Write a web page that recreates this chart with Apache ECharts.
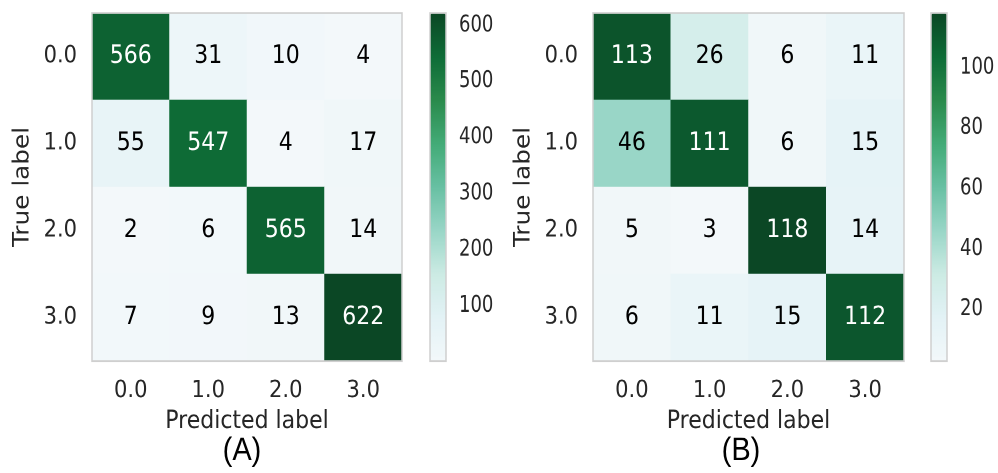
<!DOCTYPE html>
<html>
<head>
<meta charset="utf-8">
<script src="https://cdn.jsdelivr.net/npm/echarts@6/dist/echarts.min.js"></script>
<style>
  html, body { margin: 0; padding: 0; background: #ffffff; overflow: hidden; }
  #wrap { width: 998px; height: 473px; overflow: hidden; }
  /* the figure is drawn at a square-cell aspect and stretched vertically */
  #chart { width: 998px; height: 421px; transform-origin: 0 0; }
</style>
</head>
<body>
<div id="wrap"><div id="chart"></div></div>
<script>
// Class labels shared by both confusion matrices
const classLabels = ['0.0', '1.0', '2.0', '3.0'];

// Confusion matrix (A): rows = true label, columns = predicted label
const matrixA = [
  [566, 31, 10, 4],
  [55, 547, 4, 17],
  [2, 6, 565, 14],
  [7, 9, 13, 622]
];

// Confusion matrix (B)
const matrixB = [
  [113, 26, 6, 11],
  [46, 111, 6, 15],
  [5, 3, 118, 14],
  [6, 11, 15, 112]
];

// Colorbar tick labels
const colorbarTicksA = [100, 200, 300, 400, 500, 600];
const colorbarTicksB = [20, 40, 60, 80, 100];

// Panel captions
const panelTitles = ['(A)', '(B)'];

const FONT = 'DejaVu Sans';
const CB_FONT = '"DejaVu Sans Condensed", "DejaVu Sans"';
const TEXT_DARK = '#262626';
const BUGN = ['#f3f8fa', '#e3f2f6', '#ccebe4', '#99d6c7', '#68c0a3',
              '#43ab77', '#2a8a4c', '#0e6c37', '#0b4725'];

// vertical stretch applied to the rendered canvas
const SY = 473 / 421;
document.getElementById('chart').style.transform = 'scaleY(' + SY + ')';

function flatten(m) {
  const out = [];
  m.forEach(row => row.forEach(v => out.push(v)));
  return out;
}

function heatData(m) {
  const vals = flatten(m);
  const lo = Math.min(...vals), hi = Math.max(...vals);
  const thresh = (lo + hi) / 2;
  const data = [];
  m.forEach((row, yi) => {
    row.forEach((v, xi) => {
      data.push({
        value: [xi, yi, v],
        label: { color: v > thresh ? '#ffffff' : '#000000' }
      });
    });
  });
  return { data, lo, hi };
}

const hA = heatData(matrixA);
const hB = heatData(matrixB);

// Layout of the two panels (matrix grid + colorbar grid), in unstretched units
const panels = [
  { mx: 92, mw: 310, cbx: 430, title: 242 },
  { mx: 593, mw: 311, cbx: 931, title: 741 }
];
const TOP = 13 / SY, H = 348 / SY, CBW = 16;

const grids = [];
const xAxes = [];
const yAxes = [];
const series = [];
const visualMaps = [];
const graphics = [];

[[hA, colorbarTicksA], [hB, colorbarTicksB]].forEach(([h, ticks], i) => {
  const p = panels[i];
  // matrix grid
  grids.push({
    left: p.mx, top: TOP, width: p.mw, height: H,
    show: true, borderColor: '#cfcfcf', borderWidth: 1.5,
    backgroundColor: 'transparent', z: 5
  });
  // colorbar frame
  grids.push({
    left: p.cbx, top: TOP, width: CBW, height: H,
    show: true, borderColor: '#cfcfcf', borderWidth: 1.5,
    backgroundColor: 'transparent', z: 5
  });
  const gm = i * 2, gc = i * 2 + 1;

  xAxes.push({
    type: 'category', gridIndex: gm, data: classLabels,
    position: 'bottom',
    axisLine: { show: false }, axisTick: { show: false }, splitLine: { show: false },
    axisLabel: { fontFamily: FONT, fontSize: 21, color: TEXT_DARK, margin: 16 },
    name: 'Predicted label', nameLocation: 'middle', nameGap: 43,
    nameTextStyle: { fontFamily: FONT, fontSize: 22, color: TEXT_DARK }
  });
  yAxes.push({
    type: 'category', gridIndex: gm, data: classLabels, inverse: true,
    axisLine: { show: false }, axisTick: { show: false }, splitLine: { show: false },
    axisLabel: { fontFamily: FONT, fontSize: 21, color: TEXT_DARK, margin: 15 },
    name: 'True label', nameLocation: 'middle', nameGap: 58, nameRotate: 90,
    nameTextStyle: { fontFamily: FONT, fontSize: 22, color: TEXT_DARK }
  });

  // colorbar axes
  xAxes.push({ type: 'value', gridIndex: gc, show: false });
  yAxes.push({
    type: 'value', gridIndex: gc, min: h.lo, max: h.hi, position: 'right',
    axisLine: { show: false },
    splitLine: { show: false },
    axisTick: { show: true, length: 5, inside: false, customValues: ticks,
                lineStyle: { color: '#333333', width: 1 } },
    axisLabel: { customValues: ticks, fontFamily: CB_FONT, fontSize: 20,
                 color: TEXT_DARK, margin: 13 }
  });

  series.push({
    type: 'heatmap',
    xAxisIndex: i * 2, yAxisIndex: i * 2,
    data: h.data,
    label: { show: true, fontFamily: FONT, fontSize: 22 },
    itemStyle: { borderWidth: 0 },
    emphasis: { disabled: true }
  });

  visualMaps.push({
    type: 'continuous', seriesIndex: i,
    min: h.lo, max: h.hi,
    left: p.cbx, top: TOP, itemWidth: CBW, itemHeight: H,
    padding: 0, calculable: false, hoverLink: false,
    text: null, showLabel: false,
    inRange: { color: BUGN }
  });

  graphics.push({
    type: 'text', x: p.title, y: 451 / SY,
    style: { text: panelTitles[i], fontFamily: 'Liberation Sans', fontSize: 29,
             fill: '#000000', align: 'center', verticalAlign: 'middle' }
  });
});

const chart = echarts.init(document.getElementById('chart'), null, { devicePixelRatio: 2 });
chart.setOption({
  animation: false,
  backgroundColor: '#ffffff',
  grid: grids,
  xAxis: xAxes,
  yAxis: yAxes,
  visualMap: visualMaps,
  series: series,
  graphic: graphics
});
</script>
</body>
</html>
